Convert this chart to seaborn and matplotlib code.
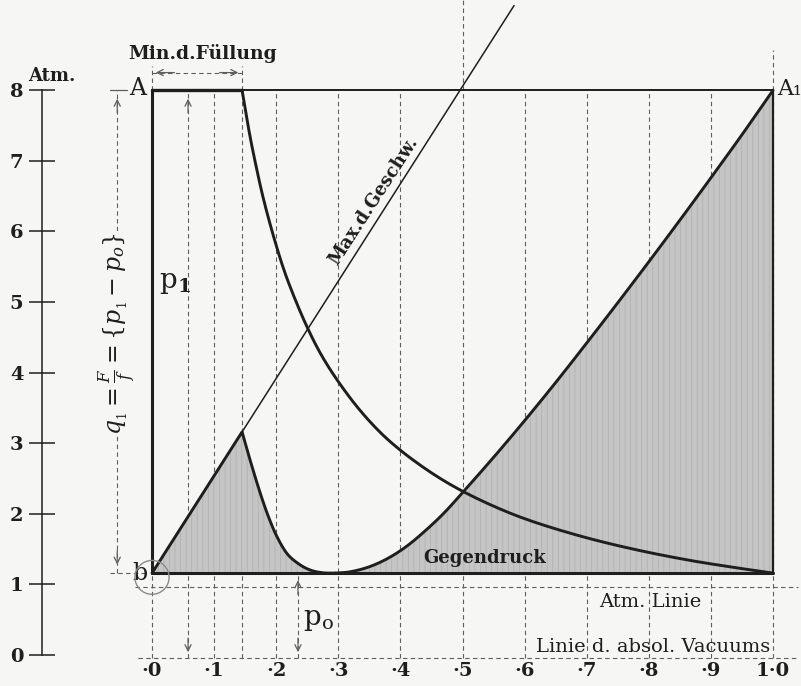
import numpy as np
import pandas as pd
import seaborn as sns
import matplotlib.pyplot as plt
from matplotlib.patches import Ellipse

# Werte
x_ticks = [0.0, 0.1, 0.2, 0.3, 0.4, 0.5, 0.6, 0.7, 0.8, 0.9, 1.0]
x_labels = ['·0', '·1', '·2', '·3', '·4', '·5', '·6', '·7', '·8', '·9', '1·0']
atm_ticks = [0, 1, 2, 3, 4, 5, 6, 7, 8]
p_1 = 8.0          # Admissionsdruck (Linie A - A1)
p_0 = 1.16         # Gegendruck (Linie b)
fuellung = 0.145   # Min. d. Fuellung
atm_linie = 0.96
vac_linie = -0.04

# Expansionslinie
exp_x = [0.145, 0.155, 0.165, 0.18, 0.2, 0.22, 0.25, 0.28, 0.32, 0.36, 0.4,
         0.45, 0.5, 0.56, 0.62, 0.7, 0.78, 0.86, 0.93, 1.0]
exp_y = [8.0, 7.48, 7.03, 6.44, 5.8, 5.27, 4.64, 4.14, 3.63, 3.22, 2.9,
         2.58, 2.32, 2.07, 1.87, 1.66, 1.49, 1.35, 1.25, 1.16]

# Max. d. Geschw.
max_x = [0.0, 0.583]
max_y = [1.16, 9.2]

# linke Flaeche: Spitze, dann abfallende Kurve
tri_x = [0.0, 0.145, 0.16, 0.174, 0.187, 0.201, 0.218, 0.238, 0.256, 0.275, 0.295]
tri_y = [1.16, 3.16, 2.7, 2.3, 1.97, 1.68, 1.43, 1.28, 1.2, 1.165, 1.16]

# rechte Flaeche
ris_x = [0.295, 0.32, 0.35, 0.38, 0.41, 0.44, 0.47, 0.5, 0.55, 0.6, 0.65,
         0.7, 0.75, 0.8, 0.85, 0.9, 0.95, 1.0]
ris_y = [1.16, 1.18, 1.25, 1.37, 1.54, 1.76, 2.01, 2.3, 2.8, 3.32, 3.86,
         4.42, 4.99, 5.57, 6.16, 6.76, 7.37, 8.0]

paper = '#f6f6f4'
ink = '#1e1e1e'
dash_c = '#5e5e5e'
fill_c = '#c5c5c5'


def smooth(xs, ys, n=10):
    pts = np.column_stack([xs, ys]).astype(float)
    P = np.vstack([2 * pts[0] - pts[1], pts, 2 * pts[-1] - pts[-2]])
    t = np.linspace(0, 1, n, endpoint=False)[:, None]
    out = []
    for i in range(1, len(P) - 2):
        a, b, c, d = P[i - 1], P[i], P[i + 1], P[i + 2]
        out.append(0.5 * (2 * b + (-a + c) * t + (2 * a - 5 * b + 4 * c - d) * t ** 2
                          + (-a + 3 * b - 3 * c + d) * t ** 3))
    out.append(pts[-1:])
    s = np.vstack(out)
    return pd.DataFrame({'x': s[:, 0], 'y': s[:, 1]})


exp_df = smooth(exp_x, exp_y)
fall_df = smooth(tri_x[1:], tri_y[1:])
tri_df = pd.concat([pd.DataFrame({'x': tri_x[:1], 'y': tri_y[:1]}), fall_df], ignore_index=True)
ris_df = smooth(ris_x, ris_y)

sns.set_theme(style='white')
plt.rcParams['font.family'] = ['DejaVu Serif']
plt.rcParams['mathtext.fontset'] = 'dejavuserif'
plt.rcParams['hatch.linewidth'] = 0.6

fig = plt.figure(figsize=(8.01, 6.86), dpi=100, facecolor=paper)
ax = fig.add_axes([0, 0, 1, 1], facecolor=paper)
ax.set_xlim(-0.2448, 1.045)
ax.set_ylim(-0.439, 9.278)

dash = (0, (4, 3))


def vdash(x, y0, y1):
    ax.plot([x, x], [y0, y1], color=dash_c, lw=0.8, ls=dash, zorder=1)


def head(x, y, dx, dy):
    ax.annotate('', xy=(x, y), xytext=(x - dx, y - dy),
                arrowprops=dict(arrowstyle='->', lw=0.9, color=dash_c,
                                shrinkA=0, shrinkB=0, mutation_scale=11),
                zorder=4)


# gestrichelte Hilfslinien
for x in [0.1, 0.2, 0.3, 0.4, 0.6, 0.7, 0.8, 0.9]:
    vdash(x, vac_linie, p_1)
vdash(0.5, vac_linie, 9.3)
vdash(1.0, vac_linie, 8.57)
vdash(0.0, vac_linie, 8.35)
vdash(fuellung, vac_linie, 8.35)
ax.plot([-0.027, 1.04], [atm_linie, atm_linie], color=dash_c, lw=0.8, ls=dash, zorder=1)
ax.plot([-0.022, 1.04], [vac_linie, vac_linie], color=dash_c, lw=0.8, ls=dash, zorder=1)

# Flaechen
ax.fill_between(tri_df['x'], tri_df['y'], p_0, facecolor=fill_c, edgecolor='#b2b2b2',
                hatch='|||', lw=0, zorder=2)
ax.fill_between(ris_df['x'], ris_df['y'], p_0, facecolor=fill_c, edgecolor='#b2b2b2',
                hatch='|||', lw=0, zorder=2)

# Rahmen
ax.plot([0, 1.0], [p_1, p_1], color=ink, lw=1.4, zorder=3)
ax.plot([0, fuellung], [p_1, p_1], color=ink, lw=2.4, zorder=3)
ax.plot([0, 0], [p_0, p_1], color=ink, lw=2.2, zorder=3)
ax.plot([1.0, 1.0], [p_0, p_1], color=ink, lw=1.6, zorder=3)
ax.plot([0, 1.0], [p_0, p_0], color=ink, lw=2.2, zorder=3)

# Kurven
sns.lineplot(data=exp_df, x='x', y='y', ax=ax, color=ink, lw=2.1, sort=False, zorder=3)
sns.lineplot(x=max_x, y=max_y, ax=ax, color=ink, lw=1.1, sort=False, zorder=3)
sns.lineplot(data=tri_df, x='x', y='y', ax=ax, color=ink, lw=2.1, sort=False, zorder=3)
sns.lineplot(data=ris_df, x='x', y='y', ax=ax, color=ink, lw=2.1, sort=False, zorder=3)
ax.set_xlabel('')
ax.set_ylabel('')

# Bemassungspfeile
vdash(0.058, vac_linie, p_1)
head(0.058, p_1 - 0.12, 0, 0.2)
head(0.058, vac_linie + 0.08, 0, -0.2)
vdash(0.235, vac_linie, p_0)
head(0.235, p_0 - 0.1, 0, 0.2)
head(0.235, vac_linie + 0.08, 0, -0.2)
vdash(-0.056, p_0, p_1)
head(-0.056, p_1 - 0.12, 0, 0.2)
head(-0.056, p_0 + 0.12, 0, -0.2)
ax.plot([-0.068, -0.04], [p_1, p_1], color=dash_c, lw=0.9, zorder=1)
ax.plot([-0.068, -0.005], [p_0, p_0], color=dash_c, lw=0.8, ls=dash, zorder=1)
ax.plot([0.0, fuellung], [8.25, 8.25], color=dash_c, lw=0.8, ls=dash, zorder=1)
head(0.006, 8.25, -0.03, 0)
head(fuellung - 0.006, 8.25, 0.03, 0)

ax.add_patch(Ellipse((0.0, 1.1), 0.055, 0.48, fill=False, ec='#8a8a8a', lw=1.0, zorder=4))

# Atm.-Skala links
for s in ['top', 'right']:
    ax.spines[s].set_visible(False)
ax.spines['left'].set_position(('data', -0.177))
ax.spines['left'].set_bounds(0, 8)
ax.spines['left'].set_color(ink)
ax.spines['left'].set_linewidth(1.1)
ax.spines['bottom'].set_position(('data', vac_linie))
ax.spines['bottom'].set_visible(False)
ax.set_yticks(atm_ticks)
ax.set_yticklabels([str(t) for t in atm_ticks])
ax.tick_params(axis='y', direction='inout', length=19, width=1.1, color=ink,
               labelsize=14, pad=4, labelcolor=ink, left=True)
ax.set_xticks(x_ticks)
ax.set_xticklabels(x_labels)
ax.tick_params(axis='x', length=0, labelsize=14, pad=3, labelcolor=ink)
for lab in ax.get_yticklabels() + ax.get_xticklabels():
    lab.set_fontweight('bold')

# Beschriftungen
ax.text(-0.2, 8.2, 'Atm.', fontsize=13, fontweight='bold', color=ink, ha='left', va='center')
ax.text(-0.0225, 8.02, 'A', fontsize=17, color=ink, ha='center', va='center')
ax.text(1.006, 8.02, 'A₁', fontsize=16, color=ink, ha='left', va='center')
ax.text(-0.019, 1.15, 'b', fontsize=17, color=ink, ha='center', va='center')
ax.text(0.082, 8.52, 'Min.d.Füllung', fontsize=13.5, fontweight='bold', color=ink,
        ha='center', va='center')
ax.text(0.356, 6.43, 'Max.d.Geschw.', fontsize=13, fontweight='bold', color=ink,
        ha='center', va='center', rotation=57, rotation_mode='anchor')
ax.text(0.536, 1.37, 'Gegendruck', fontsize=13, fontweight='bold', color=ink,
        ha='center', va='center', zorder=5)
ax.text(0.802, 0.75, 'Atm. Linie', fontsize=14, color=ink, ha='center', va='center')
ax.text(0.807, 0.12, 'Linie d. absol. Vacuums', fontsize=14, color=ink,
        ha='center', va='center')
ax.text(0.037, 5.27, r'p$_{\mathbf{1}}$', fontsize=20, color=ink, ha='center', va='center')
ax.text(0.268, 0.5, r'p$_\mathrm{o}$', fontsize=20, color=ink, ha='center', va='center')
ax.text(-0.056, 4.56, r'$q_{_1}=\frac{F}{f}=\left\{p_{_1}-p_o\right\}$', fontsize=17,
        color=ink, ha='center', va='center', rotation=90,
        bbox=dict(facecolor=paper, edgecolor='none', pad=0.5), zorder=3)

fig.savefig('out.png', dpi=100, facecolor=paper)
